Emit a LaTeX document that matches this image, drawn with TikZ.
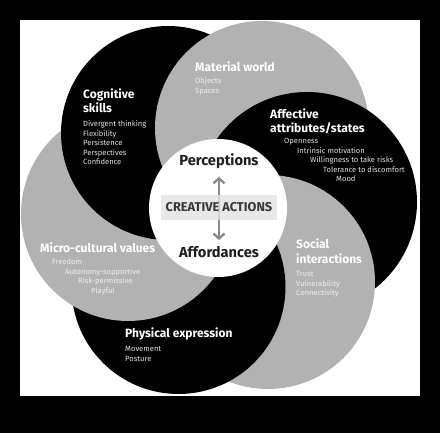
\documentclass[tikz,border=0pt]{standalone}
\usepackage{fontspec}
\setmainfont{Fira Sans}
\usetikzlibrary{arrows.meta}
\definecolor{petalgray}{RGB}{178,178,178}
\definecolor{lightlist}{RGB}{226,226,226}
\definecolor{greylist}{RGB}{236,236,236}
\definecolor{centertext}{RGB}{30,30,30}
\definecolor{boxfill}{RGB}{226,226,226}
\definecolor{arrowgray}{RGB}{138,138,138}
\tikzset{
  petal/.style={radius=107pt},
  ttl/.style={anchor=base west, inner sep=0pt, text=white, font=\fontsize{12}{14}\selectfont\bfseries},
  lstb/.style={anchor=base west, inner sep=0pt, text=lightlist, font=\fontsize{7.6}{9}\selectfont},
  lstg/.style={anchor=base west, inner sep=0pt, text=greylist, font=\fontsize{7.6}{9}\selectfont},
  cword/.style={inner sep=0pt, text=centertext, font=\fontsize{14.6}{16}\selectfont\bfseries},
  twoway/.style={{Straight Barb[length=5pt,width=11pt]}-{Straight Barb[length=5pt,width=11pt]}, line width=2.4pt, draw=arrowgray}
}
\begin{document}
\begin{tikzpicture}[x=1pt,y=-1pt]
\useasboundingbox (0,0) rectangle (440,433);
\fill[black] (0,0) rectangle (440,433);
\fill[white] (20,20) rectangle (420,396);
% circle centres
\coordinate (cA) at (307,202);
\coordinate (cM) at (262,128);
\coordinate (cC) at (168,133);
\coordinate (cU) at (128,214);
\coordinate (cP) at (178.5,287);
\coordinate (cS) at (268,282);
\coordinate (cO) at (218,208);
% petals
\fill[black] (cC) circle[petal];
\fill[petalgray] (cM) circle[petal];
\fill[black] (cA) circle[radius=110pt];
\fill[petalgray] (cS) circle[petal];
\fill[black] (cP) circle[petal];
\fill[petalgray] (cU) circle[petal];
\begin{scope}
  \clip (cU) circle[radius=110pt];
  \fill[black] (cC) circle[petal];
\end{scope}
\begin{scope}
  \clip (cU) circle[radius=113pt];
  \fill[petalgray] (cM) circle[petal];
\end{scope}
% centre disc
\fill[white] (cO) circle[radius=69pt];
% centre contents
\node[cword] (perc) at (219,161) {Perceptions};
\node[cword] (aff) at (219,252) {Affordances};
\draw[twoway, shorten <=8pt, shorten >=6pt] (perc.south) -- (aff.north);
\node[fill=boxfill, fill opacity=0.78, text opacity=1, minimum width=116pt, minimum height=25pt, inner sep=0pt,
      text=black!78, font=\fontsize{12.8}{14}\selectfont\bfseries] (ca) at (219,207.5) {CREATIVE ACTIONS};
% Cognitive skills
\node[ttl] (cog1) at (83,98.3) {Cognitive};
\node[ttl] (cog2) at (83,113) {skills};
\node[lstb] (cogA) at (83,126.7) {Divergent thinking};
\node[lstb] (cogB) at (83,136.2) {Flexibility};
\node[lstb] (cogC) at (83,145.7) {Persistence};
\node[lstb] (cogD) at (83,155.2) {Perspectives};
\node[lstb] (cogE) at (83,164.7) {Confidence};
% Material world
\node[ttl] (mat1) at (195,71.3) {Material world};
\node[lstg] (matA) at (195,83.7) {Objects};
\node[lstg] (matB) at (195,93.2) {Spaces};
% Affective
\node[ttl] (aff1) at (270,118.3) {Affective};
\node[ttl] (aff2) at (270,133) {attributes/states};
\node[lstb] (affA) at (284,143.7) {Openness};
\node[lstb] (affB) at (297,153.2) {Intrinsic motivation};
\node[lstb] (affC) at (310,162.7) {Willingness to take risks};
\node[lstb] (affD) at (323,172.2) {Tolerance to discomfort};
\node[lstb] (affE) at (336,181.7) {Mood};
% Social
\node[ttl] (soc1) at (296,249) {Social};
\node[ttl] (soc2) at (296,263.3) {interactions};
\node[lstg] (socA) at (296,276.7) {Trust};
\node[lstg] (socB) at (296,286.2) {Vulnerability};
\node[lstg] (socC) at (296,295.7) {Connectivity};
% Micro-cultural
\node[ttl] (mic1) at (40,253) {Micro-cultural values};
\node[lstg] (micA) at (52,264.7) {Freedom};
\node[lstg] (micB) at (65,274.2) {Autonomy-supportive};
\node[lstg] (micC) at (78,283.7) {Risk-permissive};
\node[lstg] (micD) at (91,293.2) {Playful};
% Physical
\node[ttl] (phy1) at (125,338) {Physical expression};
\node[lstb] (phyA) at (125,351.7) {Movement};
\node[lstb] (phyB) at (125,361.2) {Posture};
\end{tikzpicture}
\end{document}
